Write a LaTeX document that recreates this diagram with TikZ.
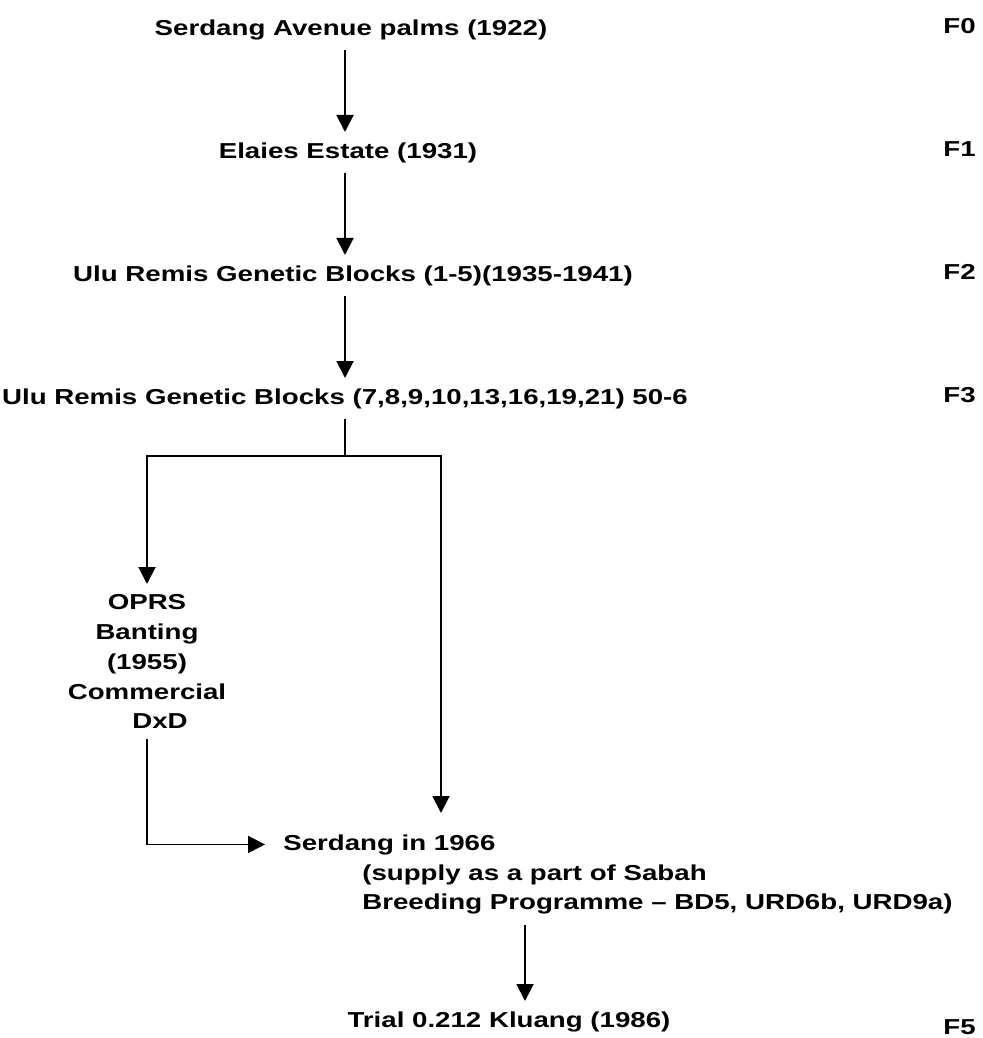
\documentclass[tikz,border=0pt]{standalone}
\usepackage{fontspec}
\setmainfont{Liberation Sans}[FakeStretch=1.28]
\usetikzlibrary{arrows.meta}

\tikzset{
	lbl/.style={font=\fontsize{12.3}{17}\selectfont\bfseries, inner sep=0.2cm},
	gen/.style={font=\fontsize{12.3}{17}\selectfont\bfseries, inner sep=0pt, anchor=base east},
	arr/.style={-{Triangle[length=0.34cm,width=0.34cm]}, line width=1.1pt},
	ln/.style={line width=1.1pt}
}

\begin{document}
\begin{tikzpicture}[x=0.02cm,y=-0.02cm]
	\useasboundingbox (0,0) rectangle (983,1038);
	
	%%% Подписи
	
	% Основная линия
	\node[lbl, anchor=base] (avenue) at (351,35) {Serdang Avenue palms (1922)};
	\node[lbl, anchor=base] (elaies) at (348,158) {Elaies Estate (1931)};
	\node[lbl, anchor=base] (ulua) at (353,281) {Ulu Remis Genetic Blocks (1-5)(1935-1941)};
	\node[lbl, anchor=base] (ulub) at (345,404) {Ulu Remis Genetic Blocks (7,8,9,10,13,16,19,21) 50-6};
	
	% Ветви
	\node[lbl, align=center, anchor=north] (oprs) at (147,584) {OPRS\\Banting\\(1955)\\Commercial\\\hspace*{0.52cm}DxD};
	\node[lbl, anchor=base west] (serd) at (273,850) {Serdang in 1966};
	\node[lbl, align=left, anchor=north west] (sabah) at (352,854) {(supply as a part of Sabah\\Breeding Programme -- BD5, URD6b, URD9a)};
	\node[lbl, anchor=base] (trial) at (509,1027) {Trial 0.212 Kluang (1986)};
	
	% Поколения
	\node[gen] (f0) at (976,33) {F0};
	\node[gen] (f1) at (976,156) {F1};
	\node[gen] (f2) at (976,279) {F2};
	\node[gen] (f3) at (976,402) {F3};
	\node[gen] (f5) at (976,1034) {F5};
	
	%%% Стрелки
	
	\coordinate (stem) at (345,0);
	\coordinate (split) at (345,456);
	\coordinate (rgt) at (441,813);
	\coordinate (tx) at (525,0);
	
	\draw[arr] (avenue.south -| stem) -- (elaies.north -| stem);
	\draw[arr] (elaies.south -| stem) -- (ulua.north -| stem);
	\draw[arr] (ulua.south -| stem) -- (ulub.north -| stem);
	
	\draw[ln] (ulub.south -| split) -- (split);
	\draw[arr] (split) -| (oprs.north);
	\draw[arr] (split) -| (rgt);
	\draw[arr, shorten >=0.16cm] (oprs.south) |- (serd.west);
	
	\draw[arr] (sabah.south -| tx) -- (trial.north -| tx);
\end{tikzpicture}
\end{document}
